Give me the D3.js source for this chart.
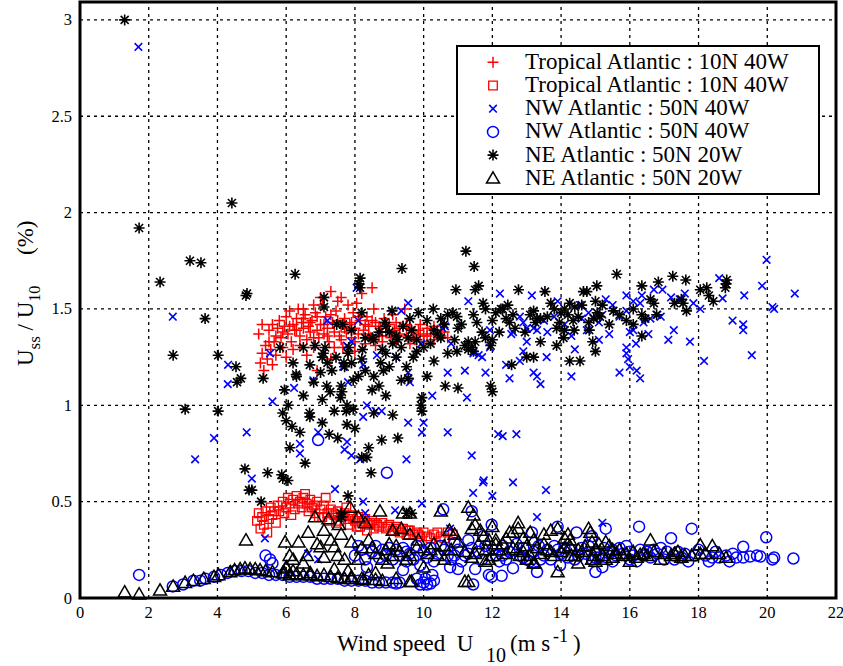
<!DOCTYPE html>
<html>
<head>
<meta charset="utf-8">
<script src="https://cdn.jsdelivr.net/npm/d3@7"></script>
<style>
  body { margin: 0; background: #fff; }
  text { font-family: "Liberation Serif", "Times New Roman", serif; fill: #000; white-space: pre; }
</style>
</head>
<body>
<div id="chart"></div>
<script>
// tick values
var xTicks = [0, 2, 4, 6, 8, 10, 12, 14, 16, 18, 20, 22];
var yTicks = [0, 0.5, 1, 1.5, 2, 2.5, 3];

var legendLabels = [
  "Tropical Atlantic : 10N 40W",
  "Tropical Atlantic : 10N 40W",
  "NW Atlantic : 50N 40W",
  "NW Atlantic : 50N 40W",
  "NE Atlantic : 50N 20W",
  "NE Atlantic : 50N 20W"
];

// Tropical Atlantic, red +
var tropPlus = [
  [5.2,1.37],[5.25,1.22],[5.3,1.27],[5.35,1.18],[5.4,1.31],[5.45,1.24],[5.5,1.39],[5.55,1.29],[5.6,1.42],[5.65,1.33],
  [5.7,1.26],[5.75,1.40],[5.8,1.44],[5.85,1.35],[5.9,1.30],[5.95,1.41],[6.0,1.46],[6.05,1.37],[6.1,1.49],[6.15,1.33],
  [6.2,1.42],[6.25,1.39],[6.3,1.45],[6.35,1.50],[6.4,1.36],[6.45,1.43],[6.5,1.40],[6.55,1.47],[6.6,1.34],[6.65,1.41],
  [6.7,1.38],[6.75,1.44],[6.8,1.30],[6.85,1.48],[6.9,1.39],[6.95,1.35],[7.0,1.42],[7.05,1.52],[7.1,1.37],[7.15,1.46],
  [7.2,1.40],[7.25,1.33],[7.3,1.59],[7.35,1.43],[7.4,1.38],[7.45,1.49],[7.5,1.54],[7.55,1.36],[7.6,1.41],[7.65,1.30],
  [7.7,1.45],[7.75,1.38],[7.8,1.27],[7.85,1.42],[7.9,1.35],[7.95,1.48],[8.0,1.40],[8.05,1.53],[8.1,1.37],[8.15,1.44],
  [8.2,1.58],[8.25,1.39],[8.3,1.32],[8.35,1.46],[8.4,1.41],[8.45,1.35],[8.5,1.61],[8.55,1.50],[8.6,1.43],[8.7,1.36],
  [8.75,1.40],[8.8,1.33],[8.85,1.45],[8.9,1.38],[9.0,1.42],[9.05,1.35],[9.1,1.47],[9.15,1.39],[9.2,1.43],[9.3,1.37],
  [9.4,1.41],[9.45,1.50],[9.5,1.36],[9.6,1.40],[9.7,1.38],[9.75,1.34],[9.85,1.39],[9.9,1.42],[10.0,1.36],[10.1,1.40],
  [10.2,1.37],[10.3,1.34],[10.4,1.39],[10.5,1.36],[10.6,1.38],[10.7,1.35],[6.9,1.18],[7.3,1.24],[6.6,1.26],[8.0,1.28],
  [5.3,1.42],[7.0,1.56],[6.2,1.29],
  [5.5,1.33],[5.7,1.36],[5.9,1.38],[6.1,1.41],[6.3,1.39],[6.5,1.45],[6.7,1.43],[6.9,1.46],[7.1,1.42],[7.3,1.47],
  [7.5,1.44],[7.7,1.40],[7.9,1.43],[8.1,1.46],[8.3,1.42],[8.5,1.44],[8.7,1.41],[8.9,1.43],[9.1,1.38],[9.3,1.40],
  [9.5,1.42],[9.7,1.35],[9.9,1.37],[10.1,1.36],[10.3,1.41],[6.4,1.31],[6.8,1.35],[7.2,1.36],[7.6,1.34],[8.0,1.33],
  [8.4,1.37],[8.8,1.36],[9.2,1.33],[9.6,1.32],[10.0,1.33],[5.6,1.21],[6.0,1.25],[7.4,1.30],[8.6,1.31],[7.8,1.52],
  [7.6,1.56],[6.8,1.52],[6.5,1.50]
];

// Tropical Atlantic, red squares
var tropSquare = [
  [5.15,0.40],[5.2,0.44],[5.25,0.36],[5.3,0.42],[5.35,0.38],[5.4,0.45],[5.5,0.41],[5.55,0.47],[5.6,0.43],[5.7,0.39],
  [5.75,0.48],[5.8,0.45],[5.9,0.50],[5.95,0.44],[6.0,0.47],[6.05,0.52],[6.1,0.49],[6.2,0.51],[6.25,0.46],[6.3,0.53],
  [6.4,0.50],[6.45,0.47],[6.5,0.52],[6.6,0.49],[6.65,0.45],[6.7,0.51],[6.8,0.48],[6.85,0.44],[6.9,0.50],[7.0,0.46],
  [7.05,0.42],[7.1,0.48],[7.2,0.44],[7.25,0.40],[7.3,0.46],[7.4,0.43],[7.5,0.45],[7.55,0.40],[7.6,0.42],[7.7,0.44],
  [7.8,0.41],[7.85,0.38],[7.9,0.43],[8.0,0.40],[8.1,0.42],[8.15,0.37],[8.2,0.39],[8.3,0.41],[8.4,0.38],[8.5,0.40],
  [8.55,0.36],[8.6,0.39],[8.7,0.37],[8.8,0.39],[8.9,0.36],[9.0,0.38],[9.1,0.35],[9.2,0.37],[9.3,0.34],[9.4,0.36],
  [9.5,0.33],[9.6,0.35],[9.7,0.33],[9.8,0.34],[9.9,0.32],[10.0,0.34],[10.1,0.32],[10.3,0.33],[10.5,0.32],[10.7,0.34],
  [10.85,0.33],[5.45,0.34],[6.15,0.43],[6.55,0.54],[7.15,0.52],[7.75,0.47],
  [5.65,0.45],[6.35,0.49],[6.75,0.47],[7.35,0.44],[7.65,0.43],[7.95,0.41],[8.25,0.40],[8.45,0.39],[8.65,0.38],[8.95,0.37],
  [9.25,0.36],[9.55,0.35],[9.85,0.33],[10.2,0.31],[10.4,0.34],[10.6,0.31],[7.45,0.39],[8.05,0.37],[6.95,0.42],[8.35,0.35]
];

// NW Atlantic, blue x
var nwCross = [
  [1.7,2.86],[2.7,1.46],[3.35,0.72],[3.9,0.83],[4.3,1.11],[4.31,1.21],[4.85,0.86],[5.0,0.62],[5.38,0.31],[5.53,1.27],
  [5.6,1.02],[6.23,1.09],[6.4,0.8],[6.4,0.75],[6.64,0.23],[6.79,1.13],[6.93,0.86],[6.93,0.2],[7.2,1.44],[7.42,0.565],
  [7.66,1.2],[7.77,1.31],[7.77,0.81],[7.7,0.77],[7.9,0.74],[7.8,1.12],[7.9,1.33],[8.05,1.61],[8.1,1.44],[8.15,0.72],
  [8.24,1.21],[8.24,0.94],[8.24,0.5],[8.3,0.44],[8.35,1.0],[8.64,1.26],[8.78,0.97],[8.6,0.97],[9.17,0.455],[9.2,1.25],
  [9.35,1.49],[9.5,0.72],[9.55,1.53],[9.55,1.17],[9.6,1.12],[9.55,0.91],[9.93,1.32],[9.95,0.49],[9.95,0.86],[10.0,0.91],
  [10.25,1.05],[10.55,1.4],[10.62,1.41],[10.7,1.17],[10.7,0.86],[10.77,0.36],[10.8,1.32],[11.2,1.18],[11.26,1.04],[11.3,1.54],
  [11.4,0.74],[11.44,0.545],[11.45,1.27],[11.6,1.26],[11.7,1.25],[11.73,0.6],[11.75,0.61],[11.8,1.17],[11.93,1.3],[11.93,1.39],
  [12.0,0.53],[12.17,0.85],[12.22,1.58],[12.3,0.84],[12.7,0.85],[12.4,1.21],[12.5,1.14],[12.55,1.37],[12.8,1.23],[12.9,1.28],
  [13.0,1.33],[13.15,1.57],[13.2,1.17],[13.3,1.15],[13.4,1.11],[13.58,1.25],[14.3,1.15],[14.4,1.29],[14.75,1.39],[15.1,1.34],
  [15.4,1.37],[15.7,1.17],[15.9,1.27],[15.9,1.3],[15.95,1.24],[16.0,1.2],[16.0,1.38],[16.1,1.39],[16.2,1.18],[16.3,1.14],
  [16.18,1.32],[16.54,1.37],[17.12,1.34],[17.28,1.39],[17.75,1.33],[18.16,1.23],[18.6,1.66],[18.7,1.555],[18.99,1.44],[19.3,1.42],
  [19.33,1.57],[19.3,1.39],[19.55,1.26],[19.85,1.62],[19.98,1.755],[20.15,1.51],[20.2,1.5],[20.8,1.58],[12.6,0.6],[13.56,0.56],
  [13.3,0.42],[15.2,0.39],[15.3,1.55],[15.9,1.57],[16.35,1.57],[16.7,1.6],[16.95,1.6],[17.2,1.56],[17.45,1.55],[17.85,1.53],
  [18.05,1.5],[16.8,1.47],[16.9,1.46],[16.6,1.45],[16.3,1.53],[15.9,1.49],[15.7,1.46],[15.1,1.43],[14.8,1.48],[14.55,1.52],
  [13.9,1.54],[13.8,1.46],[13.5,1.44],[13.3,1.39],[13.2,1.4],[12.8,1.46],[12.6,1.38],[14.6,1.45],[14.1,1.42],[13.0,1.4],
  [15.5,1.52],[16.1,1.54],[17.6,1.58],[16.4,1.43],[15.2,1.47],[14.3,1.36],[13.6,1.38],[12.9,1.43]
];

// NW Atlantic, blue circles
var nwCircle = [
  [1.72,0.12],[2.7,0.06],[3.0,0.07],[3.3,0.09],[3.5,0.09],[3.65,0.10],[3.9,0.11],[4.1,0.12],[4.3,0.13],[4.5,0.14],
  [4.7,0.14],[4.9,0.14],[5.1,0.13],[5.3,0.13],[5.5,0.12],[5.7,0.12],[5.9,0.12],[6.1,0.11],[6.3,0.11],[6.5,0.11],
  [6.7,0.11],[6.9,0.10],[7.1,0.10],[7.3,0.10],[7.5,0.10],[7.7,0.09],[7.9,0.09],[8.1,0.09],[8.3,0.09],[8.5,0.08],
  [8.7,0.08],[8.9,0.08],[9.1,0.08],[9.2,0.075],[9.3,0.08],[9.9,0.07],[10.0,0.08],[10.05,0.1],[10.1,0.07],[10.2,0.075],
  [10.25,0.12],[9.8,0.1],[10.3,0.09],[5.4,0.22],[5.53,0.2],[5.6,0.18],[6.93,0.82],[8.93,0.65],
  [8.0,0.22],[8.2,0.25],[8.35,0.16],[8.5,0.24],[8.6,0.27],[8.8,0.25],[8.9,0.22],[9.0,0.26],[9.2,0.25],[9.4,0.145],
  [9.4,0.26],[9.6,0.23],[9.7,0.2],[9.8,0.27],[10.0,0.24],[10.1,0.21],[10.2,0.26],[10.4,0.23],[10.5,0.27],[10.57,0.46],
  [10.7,0.22],[10.77,0.16],[10.9,0.285],[11.0,0.15],[11.0,0.25],[11.2,0.22],[11.3,0.3],[11.4,0.26],[11.44,0.07],[11.5,0.15],
  [11.6,0.24],[11.4,0.45],[11.73,0.32],[11.8,0.27],[11.9,0.12],[11.98,0.38],[11.98,0.11],[12.0,0.25],[12.1,0.22],[12.27,0.115],
  [12.3,0.27],[12.4,0.2],[12.5,0.24],[12.6,0.155],[12.7,0.28],[12.8,0.22],[12.9,0.26],[13.0,0.2],[13.15,0.34],[13.2,0.24],
  [13.3,0.135],[13.35,0.27],[13.5,0.22],[13.6,0.25],[13.7,0.2],[13.8,0.27],[13.9,0.37],[13.97,0.17],[14.0,0.23],[14.1,0.26],
  [14.2,0.21],[14.3,0.25],[14.45,0.34],[14.5,0.22],[14.6,0.26],[14.7,0.23],[14.8,0.27],[14.9,0.32],[15.0,0.135],[15.0,0.24],
  [15.1,0.21],[15.2,0.16],[15.25,0.26],[15.3,0.36],[15.4,0.23],[15.5,0.25],[15.6,0.22],[15.7,0.26],[15.8,0.23],[15.9,0.27],
  [16.0,0.24],[16.1,0.22],[16.27,0.37],[16.3,0.25],[16.4,0.22],[16.5,0.24],[16.6,0.21],[16.7,0.25],[16.8,0.23],[16.9,0.26],
  [17.08,0.24],[17.2,0.31],[17.3,0.22],[17.4,0.24],[17.5,0.21],[17.6,0.23],[17.8,0.36],[17.9,0.22],[18.0,0.25],[18.2,0.22],
  [18.4,0.21],[18.6,0.21],[18.8,0.22],[19.0,0.23],[19.3,0.266],[19.3,0.21],[19.5,0.215],[19.8,0.215],[19.97,0.315],[20.15,0.2],
  [20.2,0.21],[20.76,0.205],[8.3,0.2],[8.7,0.21],[9.1,0.2],[9.3,0.22],[9.5,0.19],[9.9,0.17],[10.3,0.19],[10.6,0.25],
  [10.8,0.2],[11.1,0.19],[11.3,0.23],[11.7,0.2],[12.2,0.19],[12.9,0.21],[13.1,0.19],[13.4,0.2],[14.4,0.2],[14.9,0.2],
  [15.5,0.19],[16.2,0.19],[17.0,0.2],[17.7,0.19],[18.3,0.19],[18.9,0.19],
  [8.1,0.27],[9.5,0.24],[10.9,0.22],[12.3,0.22],[13.9,0.25],[15.0,0.21],[16.0,0.2],[17.3,0.2],[18.5,0.24],[19.1,0.21],[19.7,0.22]
];

// NE Atlantic, black *
var neStar = [
  [1.3,3.0],[1.72,1.92],[4.42,2.05],[2.33,1.64],[3.2,1.75],[3.52,1.74],[3.64,1.45],[2.71,1.26],[4.02,1.26],[4.54,1.2],
  [4.68,1.14],[4.57,1.12],[3.06,0.98],[4.02,0.97],[4.83,1.57],[4.8,0.67],[4.92,0.56],[5.0,0.56],[5.27,0.5],[5.46,0.65],
  [5.87,0.64],[6.05,0.61],[5.9,0.62],[6.26,1.68],[4.86,1.58],[9.37,1.71],[11.47,1.72],[11.23,1.8],[11.5,1.6],[11.6,1.62],
  [10.94,1.6],[11.73,1.53],[8.15,1.61],[8.15,1.66],[8.12,1.63],[7.1,1.51],[7.1,1.56],[8.2,1.48],[9.08,1.49],[9.85,1.48],
  [10.28,1.5],[10.7,1.47],[10.85,1.48],[10.97,1.46],[11.45,1.47],[11.55,1.43],[11.8,1.5],[12.0,1.44],[12.1,1.48],[7.47,1.42],
  [7.65,1.42],[7.9,1.39],[8.5,1.35],[8.55,1.34],[8.87,1.43],[8.9,1.41],[9.2,1.36],[9.25,1.34],[9.4,1.41],[9.55,1.35],
  [9.65,1.39],[9.8,1.34],[10.3,1.39],[10.4,1.37],[10.9,1.34],[11.0,1.4],[11.2,1.31],[11.3,1.29],[11.4,1.3],[11.5,1.33],
  [12.0,1.34],[11.95,1.31],[5.82,1.3],[5.33,1.14],[6.84,1.31],[7.13,1.3],[7.05,1.25],[7.08,1.27],[6.69,1.21],[7.33,1.18],
  [7.8,1.27],[7.82,1.3],[8.2,1.24],[8.22,1.29],[7.7,1.2],[7.68,1.22],[8.75,1.22],[8.8,1.29],[8.9,1.27],[8.55,1.15],
  [8.83,1.18],[7.95,1.13],[8.1,1.15],[9.2,1.25],[9.35,1.3],[9.5,1.2],[9.35,1.13],[9.55,1.14],[10.1,1.15],[10.3,1.23],
  [10.7,1.27],[10.97,1.28],[11.45,1.28],[11.3,1.33],[12.0,1.07],[11.95,1.1],[11.0,1.09],[10.63,1.1],[9.95,1.04],[9.95,0.97],
  [9.92,1.0],[6.29,1.16],[6.3,1.15],[6.06,1.0],[5.9,0.96],[6.0,0.92],[6.17,0.89],[6.4,0.86],[6.69,0.94],[6.68,0.96],
  [7.05,1.03],[7.05,0.91],[7.18,1.1],[7.28,1.07],[7.6,1.1],[7.62,1.07],[7.58,1.04],[7.77,1.0],[7.95,0.98],[7.75,0.97],
  [7.4,0.97],[7.77,0.9],[8.4,0.78],[8.35,0.73],[8.78,0.82],[9.25,0.83],[8.55,0.96],[6.11,0.78],[8.47,0.65],[8.2,0.73],
  [7.8,0.53],[7.6,0.44],[7.62,0.42],[9.5,0.44],[9.65,0.44],
  [15.62,1.68],[17.25,1.67],[17.63,1.65],[16.83,1.64],[16.35,1.62],[15.04,1.62],[14.65,1.59],[14.75,1.59],[13.53,1.59],[12.76,1.6],
  [18.8,1.63],[18.82,1.65],[18.78,1.61],[18.05,1.6],[18.24,1.61],[18.43,1.54],[17.5,1.55],[17.55,1.53],[16.6,1.55],[16.78,1.47],
  [17.65,1.49],[16.35,1.47],[16.45,1.45],[15.9,1.44],[16.1,1.5],[15.52,1.49],[15.2,1.52],[15.0,1.54],[14.1,1.5],[14.25,1.53],
  [14.4,1.51],[13.8,1.5],[14.0,1.48],[13.2,1.49],[13.3,1.45],[12.3,1.5],[12.5,1.43],[12.6,1.47],[12.66,1.4],[12.95,1.38],
  [13.4,1.45],[13.6,1.46],[14.35,1.44],[14.38,1.39],[14.8,1.43],[14.82,1.39],[15.13,1.46],[15.4,1.42],[13.87,1.4],[14.1,1.39],
  [14.07,1.35],[13.87,1.31],[13.4,1.33],[13.0,1.25],[13.2,1.25],[12.56,1.21],[14.25,1.23],[14.55,1.23],[15.0,1.28],[14.92,1.33],
  [16.35,1.36],[16.1,1.42],[15.7,1.47],[16.7,1.53],[17.3,1.53],[18.3,1.57],[12.25,1.5],[12.4,1.45],[12.45,1.52],[13.1,1.47],
  [13.25,1.43],[13.7,1.53],[14.2,1.47],[14.5,1.46],[14.6,1.52],[15.05,1.48],[14.95,1.45],[13.95,1.43],
  [6.5,1.05],[6.8,1.12],[7.0,1.17],[7.2,1.22],[7.45,1.25],[7.9,1.22],[8.3,1.18],[8.5,1.08],[8.7,1.1],[9.0,1.2],
  [9.1,1.32],[9.7,1.25],[9.8,1.28],[10.0,1.3],[10.2,1.32],[10.5,1.35],[10.6,1.42],[6.5,1.3],[6.2,1.22],[8.3,1.35],
  [8.7,1.38],[9.0,1.38],[9.6,1.45],[10.1,1.44],[10.5,1.45],[11.1,1.42],[11.7,1.38],[11.8,1.35],[12.2,1.38],[5.95,1.08],
  [6.55,0.7],[7.25,0.85],[7.5,0.83],[8.0,0.88],[8.9,1.05],[9.1,0.95]
];

// NE Atlantic, black triangles
var neTri = [
  [1.3,0.03],[1.72,0.02],[2.33,0.04],[2.71,0.06],[3.06,0.08],[3.3,0.09],[3.6,0.1],[3.9,0.11],[4.03,0.12],[4.37,0.135],
  [4.5,0.145],[4.66,0.15],[4.8,0.155],[4.95,0.15],[5.1,0.15],[5.24,0.145],[5.4,0.14],[5.6,0.135],[5.9,0.13],[6.0,0.155],
  [6.1,0.12],[6.3,0.125],[6.5,0.12],[6.7,0.12],[6.9,0.115],[7.1,0.12],[7.3,0.11],[7.5,0.105],[7.7,0.1],[7.9,0.1],
  [8.25,0.095],[8.6,0.095],[9.2,0.1],[9.6,0.085],[11.2,0.085],[4.83,0.3],
  [5.97,0.29],[6.36,0.29],[6.64,0.34],[6.84,0.42],[7.1,0.35],[7.23,0.41],[7.53,0.38],[7.86,0.47],[8.1,0.42],[8.3,0.39],
  [7.0,0.265],[7.4,0.265],[7.6,0.33],[7.9,0.29],[8.2,0.26],[7.1,0.21],[7.7,0.2],[7.4,0.15],[7.8,0.14],[7.9,0.11],
  [8.2,0.1],[8.4,0.12],[8.6,0.13],[8.8,0.09],[9.65,0.085],[8.8,0.2],[8.95,0.18],[9.1,0.22],[8.73,0.45],[9.4,0.44],
  [9.6,0.44],[9.1,0.35],[9.35,0.36],[9.6,0.33],[9.8,0.26],[9.85,0.3],[10.0,0.16],[10.3,0.28],[10.6,0.27],[10.5,0.45],
  [10.75,0.35],[10.9,0.33],[11.3,0.47],[11.45,0.43],[11.5,0.38],[11.4,0.36],[11.2,0.24],[11.5,0.23],[11.8,0.25],[11.3,0.085],
  [11.9,0.3],[12.1,0.28],[11.9,0.2],[11.8,0.19],[11.65,0.35],[11.75,0.32],[12.0,0.37],[12.1,0.3],[12.4,0.31],[12.6,0.34],
  [12.75,0.39],[12.9,0.31],[13.1,0.34],[13.2,0.18],[13.5,0.33],[13.7,0.35],[13.9,0.36],[14.1,0.31],[13.9,0.135],[14.2,0.33],
  [14.25,0.27],[14.4,0.22],[14.5,0.18],[14.8,0.36],[14.9,0.29],[14.95,0.22],[15.0,0.19],[15.1,0.28],[15.3,0.29],[15.5,0.25],
  [15.5,0.21],[15.7,0.25],[16.0,0.19],[16.3,0.225],[16.6,0.3],[16.4,0.23],[16.9,0.2],[17.0,0.23],[17.3,0.23],[17.5,0.21],
  [17.6,0.22],[18.05,0.275],[18.05,0.23],[18.4,0.27],[18.8,0.21],[13.23,0.18],[12.5,0.34],[12.75,0.36],[13.2,0.3],[14.26,0.3],
  [14.85,0.34],[12.2,0.25],[12.9,0.24],[13.6,0.25],[14.0,0.24],[15.9,0.23],[16.1,0.24],[17.8,0.22],[12.3,0.28],[12.6,0.26],
  [12.8,0.22],[13.0,0.27],[13.4,0.23],[13.5,0.28],[13.8,0.22],[14.1,0.26],[14.6,0.24],[14.7,0.27],[15.2,0.22],[15.4,0.27],
  [15.8,0.22],[16.2,0.21],[8.4,0.3],[8.6,0.23],[9.0,0.28],[9.3,0.24],[9.5,0.2],[10.1,0.23],[10.4,0.22],[10.8,0.25],
  [11.0,0.29],[11.6,0.28],[6.2,0.2],[6.0,0.16],[6.5,0.18],[6.7,0.13],[5.95,0.13],[6.2,0.14],
  [12.4,0.23],[12.7,0.25],[13.1,0.22],[13.3,0.26],[13.7,0.24],[14.3,0.22],[14.5,0.25],[15.0,0.25],[15.6,0.23],[16.5,0.22],
  [16.7,0.24],[17.2,0.22],[17.4,0.24],[18.2,0.23],[18.6,0.23],[14.9,0.2],[15.3,0.2],[13.0,0.2],[12.0,0.22],[11.4,0.21],
  [10.6,0.2],[10.2,0.25],[9.6,0.22],[9.2,0.27],[8.9,0.25],[8.5,0.26],[8.1,0.2],[7.5,0.22],[7.3,0.3],[6.9,0.28],
  [6.6,0.22],[6.1,0.22]
];

var width = 843, height = 666;
var pLeft = 80, pRight = 836, pTop = 2, pBottom = 598;

var svg = d3.select("#chart").append("svg")
  .attr("width", width)
  .attr("height", height);

svg.append("rect").attr("width", width).attr("height", height).attr("fill", "#fff");

var x = d3.scaleLinear().domain([0, 22]).range([pLeft, pRight]);
var y = d3.scaleLinear().domain([0, 3.093]).range([pBottom, pTop]);

// grid
var grid = svg.append("g")
  .attr("stroke", "#000")
  .attr("stroke-width", 1.3)
  .attr("stroke-dasharray", "3,4");

grid.selectAll("line.vx")
  .data(xTicks.slice(1, -1))
  .enter().append("line")
  .attr("x1", function (d) { return x(d); })
  .attr("x2", function (d) { return x(d); })
  .attr("y1", pBottom)
  .attr("y2", pTop);

grid.selectAll("line.hy")
  .data(yTicks.slice(1))
  .enter().append("line")
  .attr("x1", pLeft)
  .attr("x2", pRight)
  .attr("y1", function (d) { return y(d); })
  .attr("y2", function (d) { return y(d); });

// marker shapes
var shapes = {
  plus: "M-5.5,0H5.5M0,-5.5V5.5",
  square: "M-4.3,-4.3H4.3V4.3H-4.3Z",
  cross: "M-3.8,-3.8L3.8,3.8M-3.8,3.8L3.8,-3.8",
  circle: "M5.5,0A5.5,5.5 0 1,1 -5.5,0A5.5,5.5 0 1,1 5.5,0Z",
  star: "M-5.5,0H5.5M0,-5.5V5.5M-4,-4L4,4M-4,4L4,-4",
  tri: "M0,-6.5L6.5,4.8L-6.5,4.8Z"
};

var series = [
  { data: tropPlus,   shape: "plus",   color: "#ff0000", w: 1.5 },
  { data: tropSquare, shape: "square", color: "#ff0000", w: 1.3 },
  { data: nwCross,    shape: "cross",  color: "#0000ff", w: 1.6 },
  { data: nwCircle,   shape: "circle", color: "#0000ff", w: 1.5 },
  { data: neStar,     shape: "star",   color: "#000000", w: 1.6 },
  { data: neTri,      shape: "tri",    color: "#000000", w: 1.5 }
];

var plot = svg.append("g");

series.forEach(function (s) {
  plot.append("g")
    .selectAll("path")
    .data(s.data)
    .enter().append("path")
    .attr("d", shapes[s.shape])
    .attr("transform", function (d) { return "translate(" + x(d[0]) + "," + y(d[1]) + ")"; })
    .attr("fill", "none")
    .attr("stroke", s.color)
    .attr("stroke-width", s.w);
});

// axes box
svg.append("rect")
  .attr("x", pLeft).attr("y", pTop)
  .attr("width", pRight - pLeft).attr("height", pBottom - pTop)
  .attr("fill", "none")
  .attr("stroke", "#000")
  .attr("stroke-width", 3);

// tick labels
svg.append("g").selectAll("text")
  .data(xTicks)
  .enter().append("text")
  .attr("x", function (d) { return x(d); })
  .attr("y", 618)
  .attr("text-anchor", "middle")
  .attr("font-size", 16.5)
  .text(function (d) { return d; });

svg.append("g").selectAll("text")
  .data(yTicks)
  .enter().append("text")
  .attr("x", 72)
  .attr("y", function (d) { return y(d) + 5.5; })
  .attr("text-anchor", "end")
  .attr("font-size", 16.5)
  .text(function (d) { return d; });

// x label
var xl = svg.append("text")
  .attr("x", 337)
  .attr("y", 651)
  .attr("font-size", 23);
xl.append("tspan").text("Wind speed  U");
xl.append("tspan").attr("x", 486).attr("dy", 11).attr("font-size", 20).text("10");
xl.append("tspan").attr("x", 510).attr("dy", -11).text("(m s");
xl.append("tspan").attr("x", 553).attr("dy", -9).attr("font-size", 18).text("-1");
xl.append("tspan").attr("x", 573).attr("dy", 9).text(")");

// y label
var yl = svg.append("text")
  .attr("transform", "translate(33,366) rotate(-90)")
  .attr("font-size", 23);
yl.append("tspan").text("U");
yl.append("tspan").attr("dy", 7).attr("font-size", 17).text("ss");
yl.append("tspan").attr("dy", -7).text(" / U");
yl.append("tspan").attr("dy", 7).attr("font-size", 16).text("10");
yl.append("tspan").attr("x", 111).attr("dy", -7).text("(%)");

// legend
var legend = svg.append("g");
legend.append("rect")
  .attr("x", 457).attr("y", 46)
  .attr("width", 362).attr("height", 148)
  .attr("fill", "#fff")
  .attr("stroke", "#000")
  .attr("stroke-width", 2);

var rows = legend.selectAll("g.row")
  .data(series)
  .enter().append("g")
  .attr("transform", function (d, i) { return "translate(0," + (62.3 + i * 23.2) + ")"; });

rows.append("path")
  .attr("d", function (d) { return shapes[d.shape]; })
  .attr("transform", "translate(493,0)")
  .attr("fill", "none")
  .attr("stroke", function (d) { return d.color; })
  .attr("stroke-width", function (d) { return d.w; });

rows.append("text")
  .attr("x", 525)
  .attr("y", 6.5)
  .attr("font-size", 23)
  .text(function (d, i) { return legendLabels[i]; });
</script>
</body>
</html>
